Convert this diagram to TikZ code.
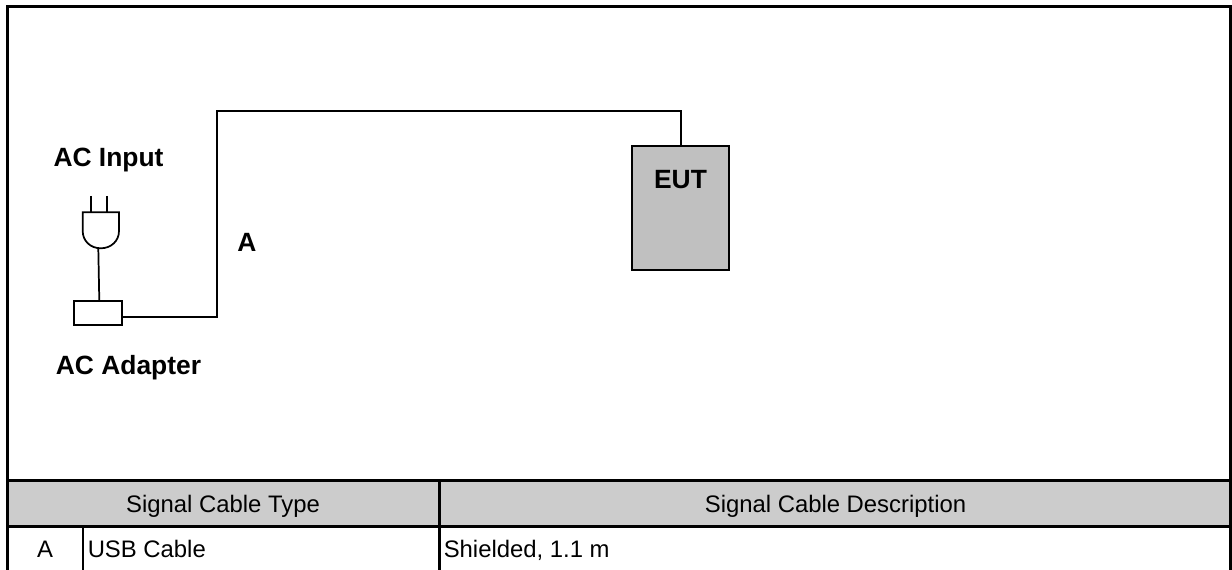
\documentclass[tikz,border=0pt]{standalone}
\usepackage{fontspec}
\setmainfont{Liberation Sans}
\definecolor{hdr}{HTML}{CCCCCC}
\definecolor{eutfill}{HTML}{C0C0C0}
\tikzset{
  frameline/.style={line width=2.1pt,black},
  wire/.style={line width=1.5pt,black},
  thinwire/.style={line width=1.3pt,black},
  boldlabel/.style={font=\fontsize{19.8}{24}\selectfont\bfseries,inner sep=0pt,anchor=base},
  celltext/.style={font=\fontsize{17.9}{22}\selectfont,inner sep=0pt,anchor=base},
  celltextl/.style={celltext,anchor=base west},
}
\begin{document}
\begin{tikzpicture}[x=0.75pt,y=-0.75pt]
\useasboundingbox (0,0) rectangle (1232,570);
% header fill
\fill[hdr] (7.5,480.7) rectangle (1230.7,526.3);
% frame
\draw[frameline] (7.5,570) -- (7.5,6.3) -- (1230.7,6.3) -- (1230.7,570);
\draw[frameline] (7.5,480.7) -- (1230.7,480.7);
\draw[frameline] (7.5,526.3) -- (1230.7,526.3);
\draw[frameline] (439.7,480.7) -- (439.7,570);
\draw[frameline] (83,526.3) -- (83,570);
% table text
\node[celltext] (h1) at (223,512.5) {Signal Cable Type};
\node[celltext] (h2) at (835.5,512.5) {Signal Cable Description};
\node[celltext] (ca) at (45,557) {A};
\node[celltextl] (cb) at (87.5,557) {USB Cable};
\node[celltextl] (cc) at (443.5,557) {Shielded, 1.1 m};
% labels
\node[boldlabel] (acin) at (108.5,167) {AC Input};
\node[boldlabel] (acad) at (128.5,374.3) {AC Adapter};
\node[boldlabel] (lA) at (247,251.5) {A};
% EUT
\node[draw,thinwire,fill=eutfill,minimum width=96.4*0.75pt,minimum height=124.3*0.75pt,inner sep=0pt] (eut) at (680.5,207.8) {};
\node[boldlabel] (euttext) at (680.5,189) {EUT};
% adapter
\node[draw,thinwire,minimum width=48.3*0.75pt,minimum height=24*0.75pt,inner sep=0pt] (adapter) at (97.9,313) {};
% plug
\coordinate (plugbottom) at (100.8,248.3);
\coordinate (cordend) at (99.3,301);
\draw[thinwire] (82.7,212.3) -- (119,212.3) -- (119,231) .. controls (119,241) and (111,248.3) .. (plugbottom) .. controls (90.5,248.3) and (82.7,241) .. (82.7,231) -- cycle;
\draw[thinwire] (90.7,196) -- (90.7,212.3);
\draw[thinwire] (106.7,196) -- (106.7,212.3);
\coordinate (cordtop) at (98.3,248.3);
\draw[thinwire] (cordtop) -- (cordend);
% cable
\coordinate (c1) at (216.7,316.7);
\coordinate (c2) at (216.7,111);
\coordinate (c3) at (eut.north |- c2);
\draw[wire] (adapter.east |- c1) -- (c1) -- (c2) -- (c3) -- (eut.north);
\end{tikzpicture}
\end{document}
